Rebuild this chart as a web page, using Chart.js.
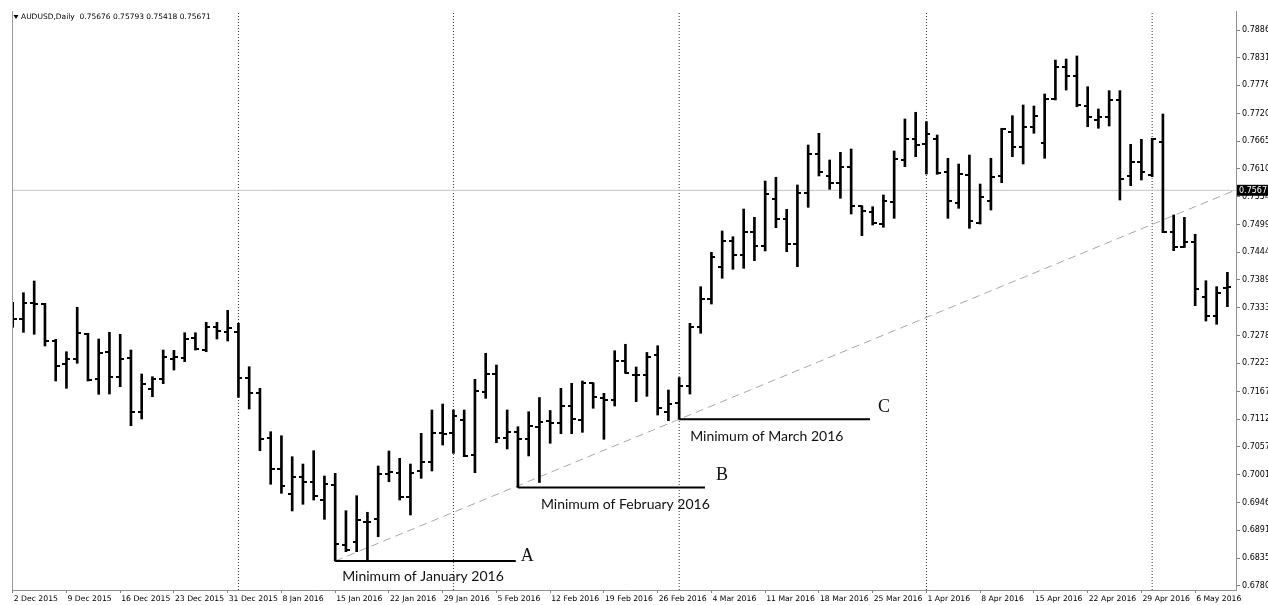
<!DOCTYPE html>
<html><head><meta charset="utf-8">
<script src="https://cdn.jsdelivr.net/npm/chart.js@4.4.1/dist/chart.umd.min.js"></script>
<style>html,body{margin:0;padding:0;background:#fff;overflow:hidden}</style>
</head><body>
<canvas id="c" width="1268" height="605"></canvas>
<script>
// ---------------- data ----------------
const symbolTitle = 'AUDUSD,Daily';
const headerQuote = ['0.75676', '0.75793', '0.75418', '0.75671'];
const currentPrice = 0.75671;

const dateLabels = ['2 Dec 2015','9 Dec 2015','16 Dec 2015','23 Dec 2015','31 Dec 2015','8 Jan 2016','15 Jan 2016','22 Jan 2016','29 Jan 2016','5 Feb 2016','12 Feb 2016','19 Feb 2016','26 Feb 2016','4 Mar 2016','11 Mar 2016','18 Mar 2016','25 Mar 2016','1 Apr 2016','8 Apr 2016','15 Apr 2016','22 Apr 2016','29 Apr 2016','6 May 2016'];
const dateLabelBars = [0,5,10,15,20,25,30,35,40,45,50,55,60,65,70,75,80,85,90,95,100,105,110];

const priceTicks = [0.78860,0.78310,0.77760,0.77200,0.76650,0.76100,0.75540,0.74990,0.74440,0.73890,0.73330,0.72780,0.72230,0.71670,0.71120,0.70570,0.70010,0.69460,0.68910,0.68350,0.67800];

const opens = [0.73290,0.73111,0.73435,0.73409,0.72679,0.72210,0.72315,0.72807,0.71917,0.72449,
0.71951,0.72329,0.71267,0.71718,0.71917,0.72321,0.72341,0.72733,0.72494,0.72958,
0.72858,0.72846,0.71931,0.71645,0.70738,0.70133,0.69630,0.69968,0.69874,0.69510,
0.69815,0.68615,0.68669,0.69073,0.69138,0.70022,0.70041,0.69564,0.70087,0.70272,
0.70849,0.70837,0.71102,0.70406,0.71665,0.72011,0.70738,0.70869,0.70718,0.70969,
0.71082,0.71036,0.71380,0.71102,0.71832,0.71533,0.71500,0.72281,0.71997,0.71997,
0.72385,0.71251,0.71434,0.71772,0.72958,0.73503,0.74139,0.74669,0.74384,0.74848,
0.74563,0.75492,0.75100,0.74603,0.75623,0.76387,0.75962,0.75822,0.76141,0.75359,
0.75245,0.74995,0.75432,0.76274,0.76692,0.76586,0.76686,0.76029,0.75424,0.75976,
0.75027,0.75464,0.75956,0.76837,0.76539,0.76936,0.76622,0.77481,0.78118,0.77951,
0.77348,0.77070,0.77135,0.77468,0.75956,0.76228,0.75976,0.76638,0.74848,0.74537,
0.74637,0.73543,0.73171,0.73737];

const highs = [0.73443,0.73634,0.73867,0.73423,0.72707,0.72460,0.73344,0.72827,0.72713,0.72846,
0.72807,0.72494,0.72017,0.71963,0.72494,0.72488,0.72838,0.72838,0.73045,0.73045,
0.73284,0.73025,0.72162,0.71732,0.70869,0.70789,0.70372,0.70226,0.70491,0.69988,
0.70041,0.69298,0.69596,0.69266,0.70187,0.70485,0.70340,0.70226,0.70837,0.71301,
0.71420,0.71301,0.71301,0.71911,0.72429,0.72196,0.71301,0.70969,0.71267,0.71549,
0.71291,0.71732,0.71832,0.71878,0.71844,0.71633,0.72480,0.72608,0.72156,0.72445,
0.72580,0.71698,0.71947,0.73025,0.73754,0.74438,0.74862,0.74748,0.75299,0.75134,
0.75856,0.75930,0.75293,0.75777,0.76572,0.76805,0.76274,0.76427,0.76493,0.75365,
0.75345,0.75578,0.76453,0.77090,0.77223,0.77036,0.76771,0.76308,0.76194,0.76373,
0.75796,0.76308,0.76905,0.77155,0.77368,0.77348,0.77587,0.78263,0.78283,0.78343,
0.77732,0.77289,0.77653,0.77653,0.76586,0.76686,0.76706,0.77189,0.75180,0.75134,
0.74796,0.73873,0.73754,0.74040];

const lows = [0.72946,0.72846,0.72807,0.72574,0.71878,0.71732,0.72230,0.71878,0.71613,0.71619,
0.71764,0.70988,0.71122,0.71565,0.71824,0.72096,0.72262,0.72494,0.72460,0.72713,
0.72673,0.71553,0.71321,0.70491,0.69823,0.69644,0.69292,0.69425,0.69510,0.69126,
0.68297,0.68482,0.68482,0.68300,0.68780,0.69874,0.69510,0.69212,0.69942,0.70087,
0.70604,0.70439,0.70372,0.70053,0.71533,0.70650,0.70525,0.69759,0.70386,0.69858,
0.70638,0.70829,0.70829,0.70857,0.71335,0.70718,0.71380,0.72031,0.71466,0.71573,
0.71201,0.71088,0.71118,0.71619,0.72827,0.73409,0.73921,0.74100,0.74120,0.74271,
0.74464,0.74927,0.74450,0.74151,0.75333,0.75956,0.75691,0.75512,0.75200,0.74768,
0.74981,0.74935,0.75114,0.76141,0.76340,0.75995,0.75989,0.75114,0.75313,0.74915,
0.75001,0.75279,0.75822,0.76340,0.76194,0.76805,0.76308,0.77468,0.77666,0.77334,
0.76936,0.76905,0.76950,0.75478,0.75763,0.75876,0.75942,0.74828,0.74470,0.74533,
0.73376,0.73071,0.73006,0.73356];

const closes = [0.73111,0.73423,0.73403,0.72679,0.72182,0.72315,0.72827,0.71897,0.72441,0.71951,
0.72309,0.71267,0.71812,0.71911,0.72361,0.72361,0.72707,0.72508,0.72946,0.72872,
0.72938,0.71931,0.71645,0.70730,0.70133,0.69783,0.69968,0.69874,0.69596,0.69829,
0.68635,0.68510,0.69112,0.69073,0.70022,0.70073,0.69564,0.70041,0.70272,0.70849,
0.70823,0.71181,0.70386,0.71685,0.72011,0.70738,0.70869,0.70718,0.70988,0.71068,
0.71036,0.71380,0.71122,0.71844,0.71565,0.71500,0.72281,0.72031,0.71997,0.72361,
0.71335,0.71426,0.71772,0.72958,0.73509,0.74338,0.74669,0.74384,0.74848,0.74563,
0.75598,0.75100,0.74603,0.75623,0.76387,0.76041,0.75822,0.76141,0.75365,0.75265,
0.75027,0.75464,0.76288,0.76692,0.76572,0.76791,0.76021,0.75464,0.75995,0.75066,
0.75532,0.75942,0.76885,0.76539,0.76936,0.77149,0.77483,0.78118,0.77951,0.77368,
0.77123,0.77135,0.77468,0.75896,0.76228,0.76041,0.76686,0.74848,0.74537,0.74637,
0.73702,0.73171,0.73622,0.73748];

const monthStartBars = [21, 41, 62, 85, 106];

const minimumLabels = ['Minimum of January 2016', 'Minimum of February 2016', 'Minimum of March 2016'];
const minimumLetters = ['A', 'B', 'C'];
const minimumBars = [30, 47, 62];
const minimumValues = [0.68297, 0.69759, 0.71118];
const minimumEndBars = [46.8, 64.4, 79.75];

const trendBars = [30, 113.8];
const trendValues = [0.68297, 0.75680];

// ---------------- layout / style ----------------
const X_MIN = -0.065, X_MAX = 113.8;
const Y_MIN = 0.67720, Y_MAX = 0.79238;
const HEADER_FONT = '7.5px "DejaVu Sans"';
const SMALL_FONT = '8px "DejaVu Sans"';
// pixel offsets of annotation texts relative to the line start / end
const annoTextStyle = [
  {textDx: 7,  textDy: 20,  letterDx: 5,  letterDy: 0.5},
  {textDx: 23, textDy: 21,  letterDx: 11, letterDy: -7.5},
  {textDx: 11, textDy: 21.5, letterDx: 8, letterDy: -7}
];

function tickImage(side) {
  const c = document.createElement('canvas');
  c.width = 8; c.height = 2;
  const g = c.getContext('2d');
  g.fillStyle = '#000';
  g.fillRect(side === 'left' ? 0 : 4, 0, 4, 2);
  return c;
}

const datasets = [];
// OHLC high-low bars
datasets.push({
  type: 'bar', order: 2,
  data: highs.map((h, i) => ({x: i, y: [lows[i], h]})),
  backgroundColor: '#000', borderWidth: 0, barThickness: 2
});
// open ticks
datasets.push({
  type: 'scatter', order: 1,
  data: opens.map((o, i) => ({x: i, y: o})),
  pointStyle: tickImage('left'), pointRadius: 3, pointHoverRadius: 3
});
// close ticks
datasets.push({
  type: 'scatter', order: 1,
  data: closes.map((c, i) => ({x: i, y: c})),
  pointStyle: tickImage('right'), pointRadius: 3, pointHoverRadius: 3
});
// month separators
monthStartBars.forEach(b => datasets.push({
  type: 'line', order: 10,
  data: [{x: b, y: Y_MIN}, {x: b, y: Y_MAX}],
  borderColor: '#333', borderWidth: 1, borderDash: [1, 2], pointRadius: 0, fill: false
}));
// current price line
datasets.push({
  type: 'line', order: 9,
  data: [{x: X_MIN, y: currentPrice}, {x: X_MAX, y: currentPrice}],
  borderColor: '#c4c4c4', borderWidth: 1, pointRadius: 0, fill: false
});
// trend line
datasets.push({
  type: 'line', order: 8,
  data: trendBars.map((b, i) => ({x: b, y: trendValues[i]})),
  borderColor: '#a8a8a8', borderWidth: 1, borderDash: [8, 5], pointRadius: 0, fill: false
});
// minimum lines
minimumBars.forEach((b, i) => datasets.push({
  type: 'line', order: 0,
  data: [{x: b, y: minimumValues[i]}, {x: minimumEndBars[i], y: minimumValues[i]}],
  borderColor: '#000', borderWidth: 2, pointRadius: 0, fill: false
}));

const overlay = {
  id: 'overlay',
  beforeDatasetsDraw(chart) { chart.ctx.imageSmoothingEnabled = false; },
  afterDraw(chart) {
    const {ctx, chartArea: a, scales: {x, y}} = chart;
    ctx.save();
    ctx.imageSmoothingEnabled = true;
    // left frame
    ctx.strokeStyle = '#9a9a9a'; ctx.lineWidth = 1;
    ctx.beginPath(); ctx.moveTo(a.left + 0.5, a.top); ctx.lineTo(a.left + 0.5, a.bottom); ctx.stroke();
    // header
    ctx.fillStyle = '#000';
    ctx.beginPath(); ctx.moveTo(13.5, 15); ctx.lineTo(18.5, 15); ctx.lineTo(16, 19); ctx.closePath(); ctx.fill();
    ctx.font = HEADER_FONT; ctx.textBaseline = 'middle'; ctx.textAlign = 'left';
    ctx.fillText(symbolTitle + '  ' + headerQuote.join(' '), 21, 17.5);
    // annotation texts
    minimumBars.forEach((b, i) => {
      const st = annoTextStyle[i];
      const x0 = x.getPixelForValue(b), x1 = x.getPixelForValue(minimumEndBars[i]);
      const yy = y.getPixelForValue(minimumValues[i]);
      ctx.fillStyle = '#111';
      ctx.textBaseline = 'alphabetic';
      ctx.font = '14px Lato';
      ctx.fillText(minimumLabels[i], x0 + st.textDx, yy + st.textDy);
      ctx.font = '18px "Liberation Serif"';
      ctx.fillText(minimumLetters[i], x1 + st.letterDx, yy + st.letterDy);
    });
    // current price box
    const py = y.getPixelForValue(currentPrice);
    ctx.fillStyle = '#000';
    ctx.fillRect(a.right + 1, py - 5.5, 40, 11);
    ctx.fillStyle = '#fff'; ctx.font = SMALL_FONT; ctx.textBaseline = 'middle';
    ctx.fillText(currentPrice.toFixed(5), a.right + 3, py + 0.5);
    ctx.restore();
  }
};

new Chart(document.getElementById('c'), {
  type: 'bar',
  data: {datasets},
  options: {
    responsive: false, animation: false, events: [],
    layout: {padding: {left: 12, top: 11, right: 0, bottom: 0}},
    plugins: {legend: {display: false}, tooltip: {enabled: false}},
    scales: {
      x: {
        type: 'linear', min: X_MIN, max: X_MAX, offset: false, bounds: 'data',
        grid: {drawOnChartArea: false, drawTicks: true, tickLength: 3, color: '#808080', offset: false},
        border: {display: true, color: '#909090', width: 1},
        ticks: {autoSkip: false, maxRotation: 0, minRotation: 0, align: 'start', labelOffset: 1, padding: 1,
                color: '#000', font: {family: 'DejaVu Sans', size: 7.7},
                callback: (v, i) => dateLabels[i]},
        afterBuildTicks: s => { s.ticks = dateLabelBars.map(v => ({value: v})); },
        afterFit: s => { s.height = 15; }
      },
      y: {
        type: 'linear', position: 'right', min: Y_MIN, max: Y_MAX, bounds: 'data',
        grid: {drawOnChartArea: false, drawTicks: true, tickLength: 4, color: '#808080'},
        border: {display: true, color: '#909090', width: 1},
        ticks: {autoSkip: false, padding: 2, color: '#000', font: {family: 'DejaVu Sans', size: 8},
                callback: v => Number(v).toFixed(5)},
        afterBuildTicks: s => { s.ticks = priceTicks.slice().sort((p, q) => p - q).map(v => ({value: v})); },
        afterFit: s => { s.width = 32; }
      }
    }
  },
  plugins: [overlay]
});
</script>
</body></html>
